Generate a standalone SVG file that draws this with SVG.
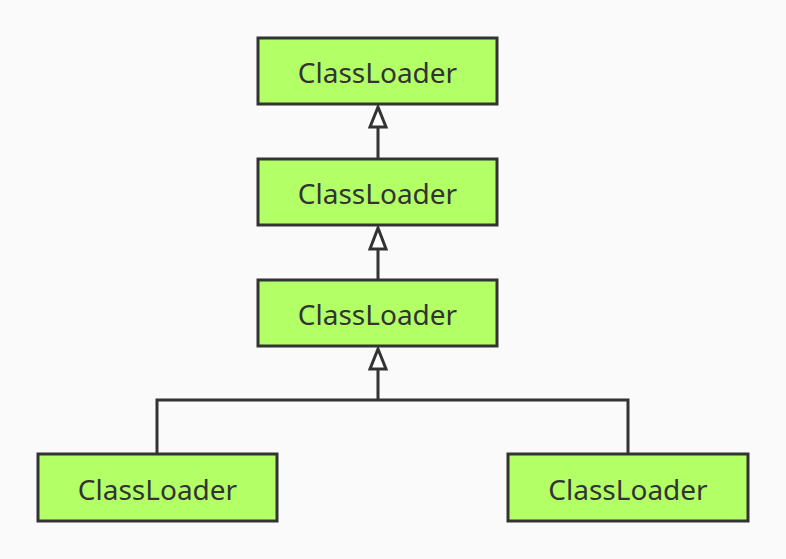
<svg xmlns="http://www.w3.org/2000/svg" width="786" height="559" viewBox="0 0 786 559">
<style>
.box{fill:#b3ff66;stroke:#333;stroke-width:3}
.lbl{font-family:"Noto Sans","Open Sans",sans-serif;font-size:28px;fill:#333;text-anchor:middle}
.con{fill:none;stroke:#333;stroke-width:3}
.head{fill:#fff;stroke:#333;stroke-width:3;stroke-linejoin:miter}
</style>
<rect width="786" height="559" fill="#fafafa"/>
<g id="connectors">
<path class="con" d="M378 159 V127"/>
<polygon class="head" points="378,107 370,127 386,127"/>
<path class="con" d="M378 280 V249"/>
<polygon class="head" points="378,228 370,249 386,249"/>
<path class="con" d="M378 400 V369"/>
<polygon class="head" points="378,349 370,369 386,369"/>
<path class="con" d="M157 454 V400 H628 V454"/>
</g>
<g id="n1"><rect class="box" x="258" y="38" width="239" height="66"/><text class="lbl" x="377.5" y="83">ClassLoader</text></g>
<g id="n2"><rect class="box" x="258" y="159" width="239" height="66"/><text class="lbl" x="377.5" y="204">ClassLoader</text></g>
<g id="n3"><rect class="box" x="258" y="280" width="239" height="66"/><text class="lbl" x="377.5" y="325">ClassLoader</text></g>
<g id="n4"><rect class="box" x="38" y="454" width="239" height="67"/><text class="lbl" x="157.5" y="500">ClassLoader</text></g>
<g id="n5"><rect class="box" x="508" y="454" width="240" height="67"/><text class="lbl" x="628" y="500">ClassLoader</text></g>
</svg>
